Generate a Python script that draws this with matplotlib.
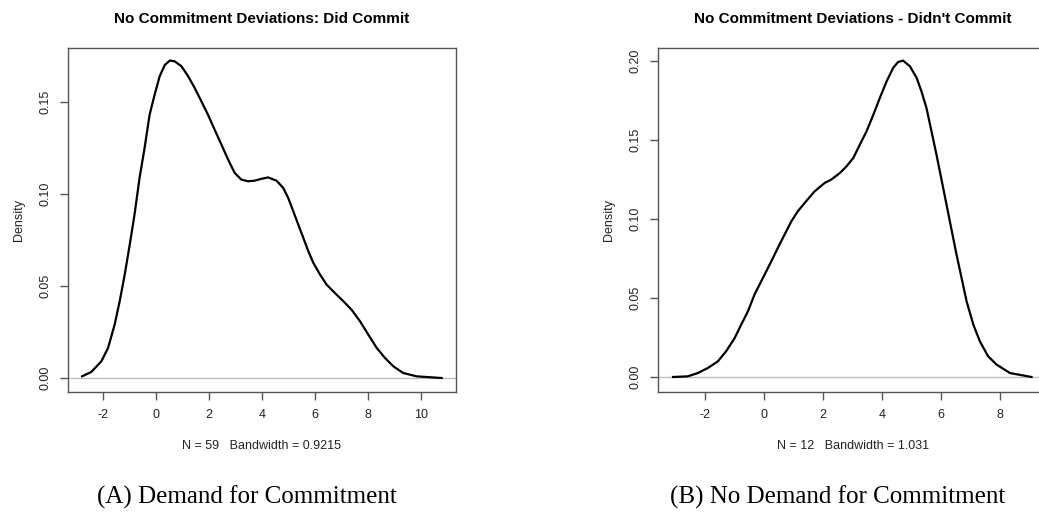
import matplotlib
matplotlib.use("Agg")
import matplotlib.pyplot as plt

# densidade (x, densidade)
did_x = [-2.79, -2.44, -2.06, -1.81, -1.56, -1.37, -1.18, -0.99, -0.81, -0.62, -0.43, -0.24,
         -0.05, 0.14, 0.33, 0.52, 0.70, 0.96, 1.21, 1.46, 1.71, 1.96, 2.21, 2.47, 2.72, 2.97,
         3.22, 3.47, 3.72, 3.97, 4.23, 4.55, 4.80, 4.99, 5.18, 5.37, 5.56, 5.75, 5.94, 6.19,
         6.44, 6.75, 7.07, 7.38, 7.70, 8.01, 8.33, 8.64, 8.96, 9.33, 9.84, 10.78]
did_y = [0.0009, 0.0033, 0.0091, 0.0163, 0.029, 0.0417, 0.0562, 0.0725, 0.0888, 0.1087, 0.125,
         0.1431, 0.154, 0.164, 0.170, 0.1725, 0.1721, 0.1694, 0.164, 0.1576, 0.1504, 0.1431,
         0.135, 0.1268, 0.1187, 0.1114, 0.1078, 0.1069, 0.1072, 0.1082, 0.109, 0.1072, 0.1033,
         0.0978, 0.0906, 0.0833, 0.0761, 0.0688, 0.0625, 0.0562, 0.0507, 0.0462, 0.0417,
         0.0371, 0.0308, 0.0236, 0.0163, 0.0109, 0.0063, 0.0027, 0.0009, 0.0]

didnt_x = [-3.08, -2.58, -2.24, -1.90, -1.56, -1.28, -0.99, -0.77, -0.54, -0.32, -0.09, 0.25,
           0.47, 0.70, 0.93, 1.15, 1.43, 1.72, 2.06, 2.28, 2.57, 2.80, 3.03, 3.25, 3.48, 3.71,
           3.93, 4.16, 4.38, 4.55, 4.72, 4.95, 5.18, 5.34, 5.51, 5.68, 5.85, 6.02, 6.19, 6.36,
           6.53, 6.70, 6.87, 7.10, 7.32, 7.60, 7.89, 8.34, 9.07]
didnt_y = [0.0, 0.0004, 0.0025, 0.0057, 0.0099, 0.0163, 0.0247, 0.0331, 0.0416, 0.0521, 0.0606,
           0.0732, 0.0816, 0.0901, 0.0985, 0.1049, 0.1112, 0.1175, 0.1228, 0.1249, 0.129,
           0.1333, 0.1386, 0.147, 0.1555, 0.166, 0.1766, 0.1871, 0.1956, 0.1994, 0.2002, 0.1966,
           0.1892, 0.1808, 0.1703, 0.1555, 0.1407, 0.1249, 0.1091, 0.0932, 0.0774, 0.0627,
           0.0479, 0.0331, 0.0226, 0.0131, 0.0078, 0.0025, 0.0]

titles = ["No Commitment Deviations: Did Commit", "No Commitment Deviations - Didn't Commit"]
subs = ["N = 59   Bandwidth = 0.9215", "N = 12   Bandwidth = 1.031"]
captions = ["(A) Demand for Commitment", "(B) No Demand for Commitment"]
xticks = [[-2, 0, 2, 4, 6, 8, 10], [-2, 0, 2, 4, 6, 8]]
yticks = [[0.00, 0.05, 0.10, 0.15], [0.00, 0.05, 0.10, 0.15, 0.20]]

plt.rcParams["font.family"] = ["Liberation Sans", "DejaVu Sans"]
W, H = 1039, 516
fig = plt.figure(figsize=(W / 100, H / 100), dpi=100)

# caixas em pixels (esq, dir) e limites
boxes = [(68, 456), (658, 1048)]
xlims = [(-3.32, 11.32), (-3.59, 9.63)]
ylims = [(-0.0076, 0.1793), (-0.0095, 0.2082)]
series = [(did_x, did_y), (didnt_x, didnt_y)]
cap_x = [247, 838]
gray = "#555555"

for i in range(2):
    l, r = boxes[i]
    ax = fig.add_axes([l / W, (H - 392) / H, (r - l) / W, 344 / H])
    xs, ys = series[i]
    ax.axhline(0, color="#bebebe", lw=1)
    ax.plot(xs, ys, color="black", lw=1.6, solid_joinstyle="round")
    ax.set_xlim(*xlims[i]); ax.set_ylim(*ylims[i])
    ax.set_xticks(xticks[i]); ax.set_yticks(yticks[i])
    ax.set_xticklabels([str(v) for v in xticks[i]])
    ax.set_yticklabels([f"{v:.2f}" for v in yticks[i]], rotation=90, va="center")
    for s in ax.spines.values():
        s.set_color(gray); s.set_linewidth(1.0)
    ax.tick_params(direction="out", length=6, width=1, color=gray, labelsize=9,
                   labelcolor="#222222", pad=6)
    ax.set_ylabel("Density", fontsize=9, color="#222222", labelpad=10)
    ax.set_title(titles[i], fontsize=11, fontweight="bold", pad=18)
    cx = (l + r) / 2 / W
    fig.text(cx, 1 - 446 / H, subs[i], ha="center", va="center", fontsize=9, color="#222222")
    fig.text(cap_x[i] / W, 1 - 497 / H, captions[i], ha="center", va="center", fontsize=18,
             family="Liberation Serif")

fig.savefig("out.png", dpi=100)
